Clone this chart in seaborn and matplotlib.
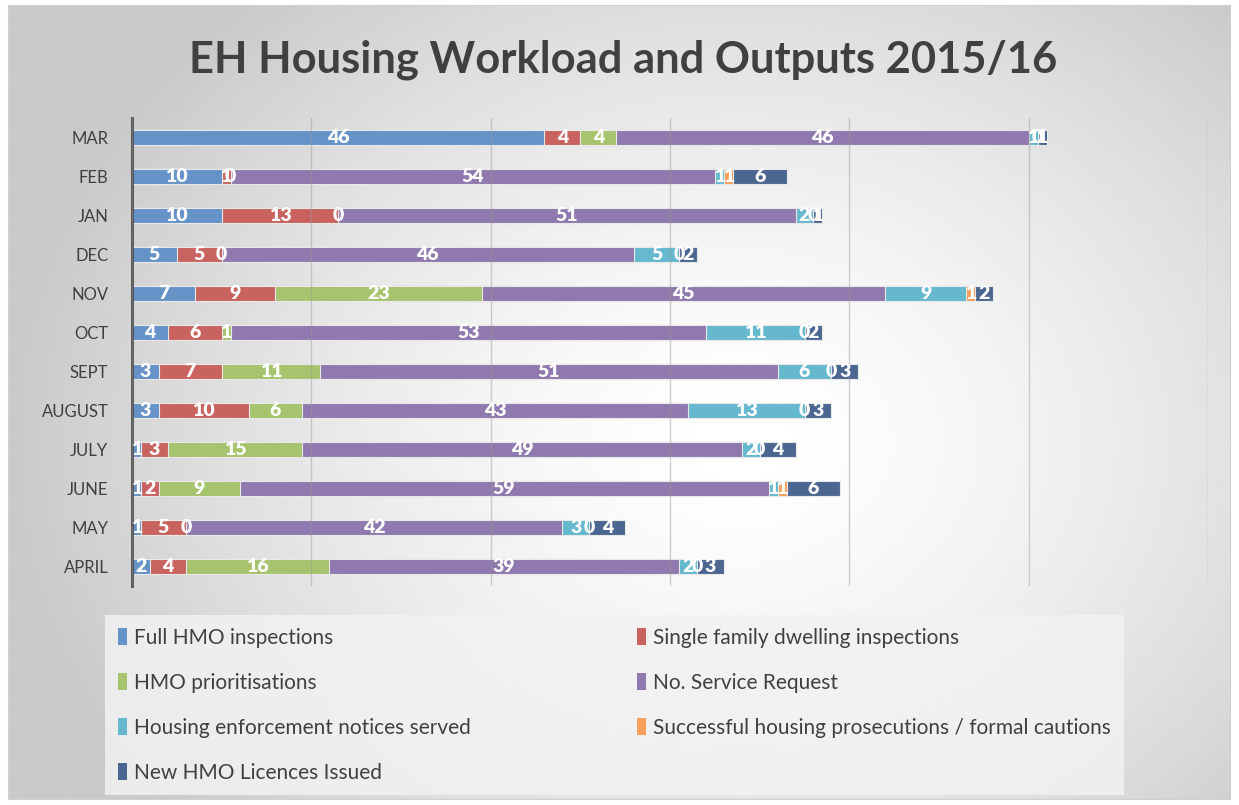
import numpy as np
import pandas as pd
import matplotlib
matplotlib.use("Agg")
import matplotlib.pyplot as plt
from matplotlib.patches import Patch
import seaborn as sns

sns.set_style("white")
plt.rcParams["font.family"] = ["Lato", "DejaVu Sans"]

# -------------------------------
# Data
# -------------------------------
months = ["APRIL", "MAY", "JUNE", "JULY", "AUGUST", "SEPT",
          "OCT", "NOV", "DEC", "JAN", "FEB", "MAR"]

full_hmo = [2, 1, 1, 1, 3, 3, 4, 7, 5, 10, 10, 46]
single_family = [4, 5, 2, 3, 10, 7, 6, 9, 5, 13, 1, 4]
hmo_prior = [16, 0, 9, 15, 6, 11, 1, 23, 0, 0, 0, 4]
service_req = [39, 42, 59, 49, 43, 51, 53, 45, 46, 51, 54, 46]
enforcement = [2, 3, 1, 2, 13, 6, 11, 9, 5, 2, 1, 1]
prosecutions = [0, 0, 1, 0, 0, 0, 0, 1, 0, 0, 1, 0]
licences = [3, 4, 6, 4, 3, 3, 2, 2, 2, 1, 6, 1]

series_names = [
    "Full HMO inspections",
    "Single family dwelling inspections",
    "HMO prioritisations",
    "No. Service Request",
    "Housing enforcement notices served",
    "Successful housing prosecutions / formal cautions",
    "New HMO Licences Issued",
]
series_values = [full_hmo, single_family, hmo_prior, service_req,
                 enforcement, prosecutions, licences]
colors = ["#6592C7", "#C9635F", "#A6C46E", "#9079AE",
          "#65B8CE", "#F6A05B", "#4B6690"]

df = pd.DataFrame(dict(zip(series_names, series_values)), index=months)
cum = df.cumsum(axis=1)

# -------------------------------
# Figure + gradient background
# -------------------------------
fig = plt.figure(figsize=(12.39, 8.05), dpi=100)

bg = fig.add_axes([8 / 1239, 6 / 805, 1222 / 1239, 794 / 805])
gx, gy = np.meshgrid(np.linspace(0, 1, 400), np.linspace(0, 1, 300))
r = np.sqrt(((gx - 0.6) / 0.6) ** 2 + ((gy - 0.45) / 0.75) ** 2)
grad = 1 - 0.21 * np.clip(r, 0, 1) ** 1.5
bg.imshow(grad, aspect="auto", cmap="gray", vmin=0, vmax=1,
          extent=[0, 1, 0, 1], origin="lower")
bg.set_xticks([])
bg.set_yticks([])
for s in bg.spines.values():
    s.set_color("#d0d0d0")
bg.set_zorder(-1)

# -------------------------------
# Stacked bars
# -------------------------------
ax = fig.add_axes([132 / 1239, 219 / 805, 1076 / 1239, 468 / 805])
ax.patch.set_alpha(0)

order = months[::-1]
for name, col in zip(series_names[::-1], colors[::-1]):
    sns.barplot(x=cum[name].values, y=months, order=order, orient="h",
                color=col, width=0.41, edgecolor="#e8e8e8", linewidth=0.8,
                saturation=1, ax=ax)

# value labels centred in each segment
for name in series_names:
    for m in months:
        v = df.loc[m, name]
        xc = cum.loc[m, name] - v / 2
        ax.text(xc, order.index(m), str(v), ha="center", va="center",
                color="white", fontsize=14, fontweight="heavy", zorder=6)

ax.set_xlim(0, 120)
ax.set_xticks(range(0, 121, 20))
ax.set_xticklabels([])
ax.set_xlabel("")
ax.set_ylabel("")
ax.set_axisbelow(False)
ax.grid(axis="x", color="#9a9a9a", alpha=0.45, linewidth=1, zorder=4)
ax.tick_params(axis="y", length=0, labelsize=12, labelcolor="#404040", pad=17)
ax.tick_params(axis="x", length=0)
for lab in ax.get_yticklabels():
    lab.set_fontweight("normal")
for side in ["top", "right", "bottom"]:
    ax.spines[side].set_visible(False)
ax.spines["left"].set_color("#4a4a4a")
ax.spines["left"].set_linewidth(2)

# -------------------------------
# Title and legend
# -------------------------------
fig.text(0.503, 0.926, "EH Housing Workload and Outputs 2015/16",
         ha="center", va="center", fontsize=31.3, fontweight="bold",
         color="#404040")

handles = [Patch(facecolor=c, edgecolor="none") for c in colors]
idx = [0, 2, 4, 6, 1, 3, 5]
leg = fig.legend([handles[i] for i in idx], [series_names[i] for i in idx],
                 ncol=2, loc="upper left",
                 bbox_to_anchor=(105 / 1239, 1 - 615 / 805),
                 borderaxespad=0,
                 fontsize=15, labelcolor="#404040", frameon=True,
                 facecolor="#f2f2f2", edgecolor="none", framealpha=0.85,
                 handlelength=0.45, handleheight=0.85, handletextpad=0.35,
                 labelspacing=1.2, borderpad=0.6, columnspacing=7.95)
leg.get_frame().set_boxstyle("square", pad=0)

fig.savefig("out.png", dpi=100)
